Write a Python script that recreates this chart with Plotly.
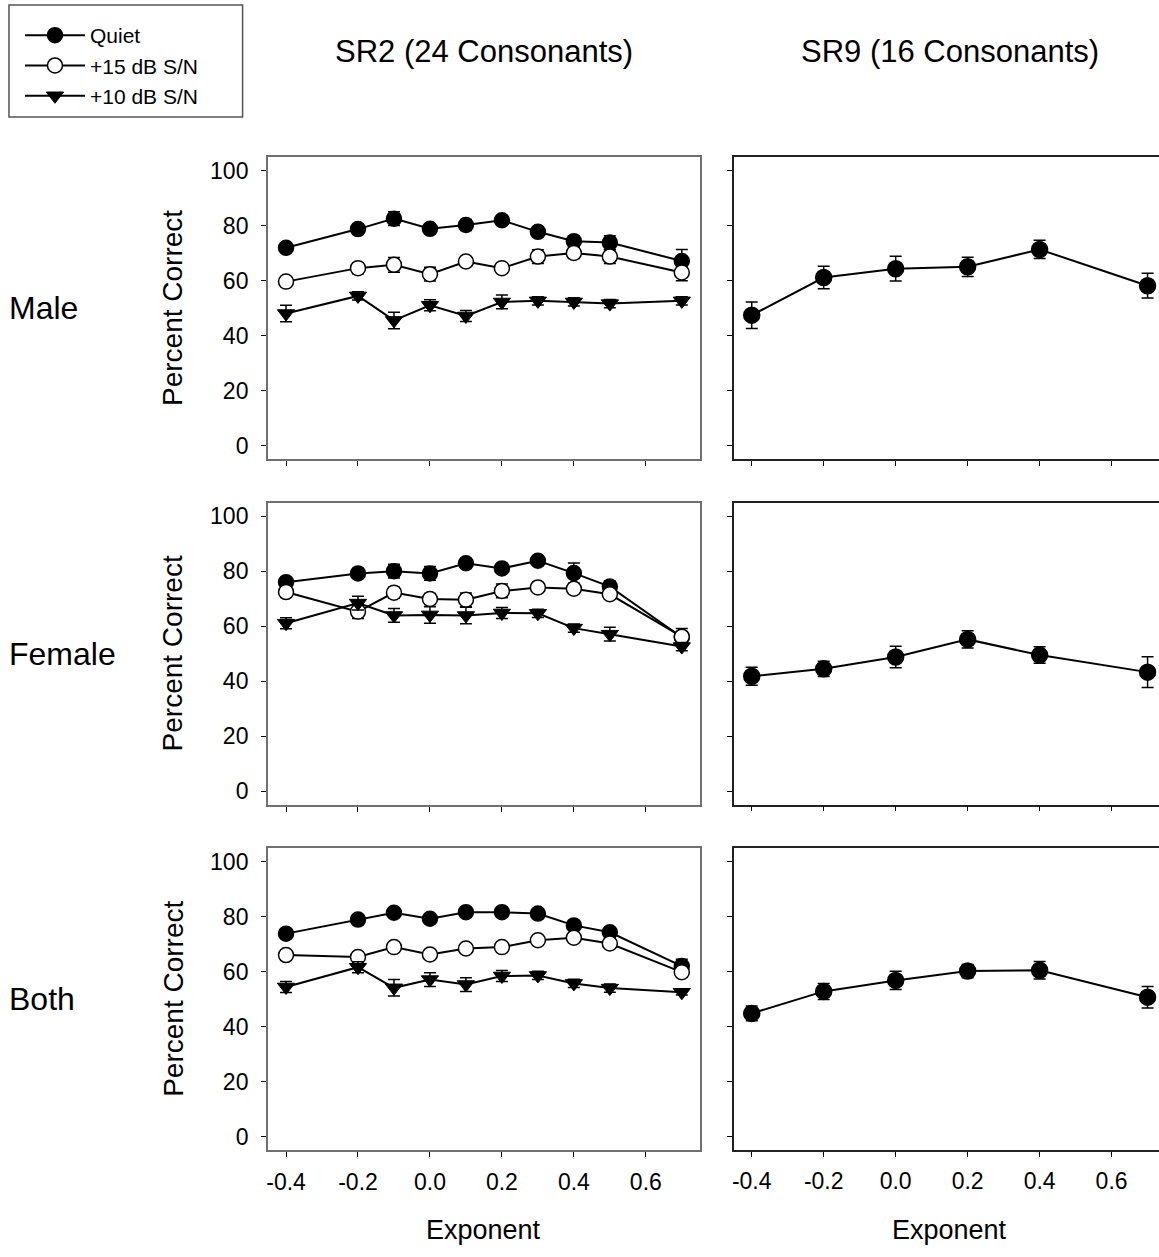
import plotly.graph_objects as go

# ---------------- data ----------------
x_sr2 = [-0.4, -0.2, -0.1, 0.0, 0.1, 0.2, 0.3, 0.4, 0.5, 0.7]
x_sr9 = [-0.4, -0.2, 0.0, 0.2, 0.4, 0.7]

male_quiet = [72.0, 78.8, 82.6, 78.9, 80.3, 82.0, 77.8, 74.4, 73.9, 67.2]
male_quiet_err = [1.2, 1.5, 2.5, 1.5, 2.0, 1.5, 1.5, 2.0, 2.5, 4.2]
male_sn15 = [59.7, 64.6, 65.8, 62.4, 67.0, 64.6, 68.8, 70.1, 68.8, 63.0]
male_sn15_err = [1.0, 2.0, 2.7, 2.5, 1.5, 1.5, 2.5, 2.0, 2.5, 3.0]
male_sn10 = [48.1, 54.5, 45.6, 51.1, 47.2, 52.3, 52.7, 52.3, 51.7, 52.7]
male_sn10_err = [3.0, 1.5, 3.0, 2.0, 2.0, 2.5, 1.5, 1.5, 1.5, 1.5]

female_quiet = [76.0, 79.2, 80.0, 79.2, 82.9, 81.0, 83.8, 79.3, 74.4, 56.0]
female_quiet_err = [1.5, 1.5, 2.5, 2.5, 1.5, 1.5, 1.5, 3.7, 2.0, 2.0]
female_sn15 = [72.4, 65.3, 72.2, 69.9, 69.6, 72.8, 74.1, 73.6, 71.6, 56.2]
female_sn15_err = [1.5, 2.5, 2.0, 2.0, 2.5, 2.5, 1.5, 1.5, 1.5, 3.0]
female_sn10 = [61.1, 68.4, 63.9, 64.1, 63.9, 64.8, 64.7, 59.3, 57.1, 52.6]
female_sn10_err = [2.0, 2.5, 2.5, 3.0, 3.0, 2.0, 1.5, 1.5, 2.5, 1.5]

both_quiet = [73.8, 78.9, 81.4, 79.2, 81.6, 81.6, 81.1, 76.8, 74.3, 62.0]
both_quiet_err = [1.0, 1.5, 1.5, 1.5, 1.5, 1.5, 1.5, 1.5, 1.5, 2.5]
both_sn15 = [66.0, 65.3, 68.9, 66.2, 68.4, 68.9, 71.4, 72.3, 70.2, 59.8]
both_sn15_err = [1.0, 1.0, 1.5, 1.5, 1.5, 1.5, 1.5, 1.5, 1.5, 1.5]
both_sn10 = [54.4, 61.6, 54.1, 57.1, 55.3, 58.4, 58.6, 55.7, 54.0, 52.5]
both_sn10_err = [2.0, 2.0, 3.0, 2.5, 2.5, 2.0, 1.5, 1.5, 1.5, 1.0]

sr9_male = [47.5, 61.2, 64.4, 65.1, 71.4, 58.2]
sr9_male_err = [4.8, 4.1, 4.5, 3.5, 3.3, 4.5]
sr9_female = [41.8, 44.5, 48.8, 55.2, 49.5, 43.3]
sr9_female_err = [3.3, 2.8, 3.9, 3.1, 3.0, 5.6]
sr9_both = [44.8, 52.8, 56.8, 60.2, 60.5, 50.7]
sr9_both_err = [2.7, 2.9, 3.3, 2.4, 3.2, 3.9]

series_names = ["Quiet", "+15 dB S/N", "+10 dB S/N"]
row_labels = ["Male", "Female", "Both"]
col_titles = ["SR2 (24 Consonants)", "SR9 (16 Consonants)"]
x_tickvals = [-0.4, -0.2, 0.0, 0.2, 0.4, 0.6]
x_ticktext = ["-0.4", "-0.2", "0.0", "0.2", "0.4", "0.6"]
y_tickvals = [0, 20, 40, 60, 80, 100]
y_ticktext = ["0", "20", "40", "60", "80", "100"]

# ---------------- layout geometry (window pixels) ----------------
W, H = 1159, 1257
FONT = "Liberation Sans, Arial, sans-serif"


def fx(p):
    return p / W


def fy(p):
    return 1 - p / H


left_dom = [fx(266.5), fx(699.0)]
right_dom = [fx(733.0), 1.0]
row_tops = [157.3, 502.7, 848.1]
row_h = 302.0
x_range_left = [-0.45, 0.75]
x_range_right = [-0.45, 0.6 + (W - 1111.5) / 360.5]
y_range = [-4.9, 104.9]

styles = [
    dict(symbol="circle", color="black", size=15, line=dict(color="black", width=1.5)),
    dict(symbol="circle", color="white", size=15, line=dict(color="black", width=1.5)),
    dict(symbol="triangle-down", color="black", size=15, line=dict(color="black", width=1)),
]

sr2_data = [
    [(male_quiet, male_quiet_err), (male_sn15, male_sn15_err), (male_sn10, male_sn10_err)],
    [(female_quiet, female_quiet_err), (female_sn15, female_sn15_err), (female_sn10, female_sn10_err)],
    [(both_quiet, both_quiet_err), (both_sn15, both_sn15_err), (both_sn10, both_sn10_err)],
]
sr9_data = [(sr9_male, sr9_male_err), (sr9_female, sr9_female_err), (sr9_both, sr9_both_err)]

fig = go.Figure()
layout = dict(
    width=W, height=H,
    margin=dict(l=0, r=0, t=0, b=0),
    paper_bgcolor="white", plot_bgcolor="white",
    font=dict(family=FONT, color="black", size=22),
    showlegend=True,
    legend=dict(
        x=fx(18), y=fy(15), xanchor="left", yanchor="top",
        bgcolor="rgba(0,0,0,0)", borderwidth=0,
        font=dict(family=FONT, size=21, color="black"),
        itemwidth=60, tracegroupgap=0, itemclick=False, itemdoubleclick=False,
    ),
)


def axis_key(n, kind):
    return kind + ("axis" if n == 1 else "axis%d" % n)


def ref(n, kind):
    return kind if n == 1 else "%s%d" % (kind, n)


n = 0
for r in range(3):
    top = row_tops[r]
    ydom = [fy(top + row_h), fy(top)]
    for c in range(2):
        n += 1
        left = (c == 0)
        lc = "#707070" if left else "#222222"
        lw = 2 if left else 1.5
        layout[axis_key(n, "x")] = dict(
            domain=left_dom if left else right_dom,
            range=x_range_left if left else x_range_right,
            anchor=ref(n, "y"),
            showline=True, linecolor=lc, linewidth=lw, mirror=True,
            ticks="outside", ticklen=5, tickwidth=1, tickcolor="black",
            tickvals=x_tickvals, ticktext=x_ticktext,
            showticklabels=(r == 2), ticklabelstandoff=5,
            tickfont=dict(family=FONT, size=23),
            showgrid=False, zeroline=False, fixedrange=True,
        )
        layout[axis_key(n, "y")] = dict(
            domain=ydom, range=y_range, anchor=ref(n, "x"),
            showline=True, linecolor=lc, linewidth=lw, mirror=left,
            ticks="outside", ticklen=5, tickwidth=1, tickcolor="black",
            tickvals=y_tickvals, ticktext=y_ticktext,
            showticklabels=left, ticklabelstandoff=8,
            tickfont=dict(family=FONT, size=23),
            showgrid=False, zeroline=False, fixedrange=True,
        )
        if left:
            for s, (vals, errs) in enumerate(sr2_data[r]):
                fig.add_trace(go.Scatter(
                    x=x_sr2, y=vals, mode="lines+markers", name=series_names[s],
                    showlegend=(r == 0), legendgroup=series_names[s],
                    line=dict(color="black", width=2), marker=styles[s],
                    error_y=dict(type="data", array=errs, color="black", thickness=1.5, width=6),
                    xaxis=ref(n, "x"), yaxis=ref(n, "y"),
                ))
        else:
            vals, errs = sr9_data[r]
            fig.add_trace(go.Scatter(
                x=x_sr9, y=vals, mode="lines+markers", name=series_names[0],
                showlegend=False, line=dict(color="black", width=2),
                marker=dict(symbol="circle", color="black", size=16, line=dict(color="black", width=1.5)),
                error_y=dict(type="data", array=errs, color="black", thickness=1.5, width=6),
                xaxis=ref(n, "x"), yaxis=ref(n, "y"), cliponaxis=False,
            ))

annotations = []


def ann(text, xpx, ypx, size, xanchor="center", angle=0):
    annotations.append(dict(
        text=text, x=fx(xpx), y=fy(ypx), xref="paper", yref="paper",
        xanchor=xanchor, yanchor="middle", showarrow=False, textangle=angle,
        font=dict(family=FONT, size=size, color="black"),
    ))


ann(col_titles[0], 482.7, 52, 31)
ann(col_titles[1], 949.3, 52, 31)
for r in range(3):
    cy = row_tops[r] + row_h / 2
    ann(row_labels[r], 5, cy, 32, xanchor="left")
    ann("Percent Correct", 171, cy, 28, angle=-90)
ann("Exponent", 482.7, 1230, 27)
ann("Exponent", 949.3, 1230, 27)
layout["annotations"] = annotations
layout["shapes"] = [dict(
    type="rect", xref="paper", yref="paper",
    x0=fx(7), x1=fx(241), y0=fy(117), y1=fy(5),
    line=dict(color="#555555", width=1.5), fillcolor="rgba(0,0,0,0)",
)]

fig.update_layout(**layout)
fig.write_html(
    "out.html",
    config={"displayModeBar": False, "staticPlot": False},
    post_script="document.body.style.margin='0';document.body.style.overflow='hidden';",
)
